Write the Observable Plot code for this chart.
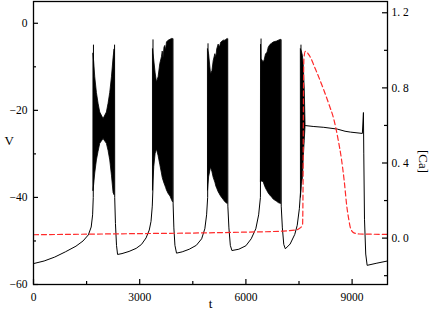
<!DOCTYPE html>
<html><head><meta charset="utf-8">
<script src="https://cdn.jsdelivr.net/npm/d3@7"></script>
<script src="https://cdn.jsdelivr.net/npm/@observablehq/plot@0.6"></script>
<style>
html,body{margin:0;padding:0;background:#fff;}
#chart{width:430px;height:310px;}
</style></head><body><div id="chart"></div>
<script>
// ticks
const xTicks = [0, 3000, 6000, 9000];
const xMinor = [1500, 4500, 7500];
const vTicks = [-60, -40, -20, 0];
const vMinor = [-50, -30, -10];
const caTicks = [0, 0.4, 0.8, 1.2];
const caMinor = [-0.2, 0.2, 0.6, 1.0];

// slow voltage trace (null = gap where a burst is drawn)
const traceT = [0,300,600,900,1200,1400,1550,1630,1670,1688,1694,null,
  2290,2294,2315,2345,2375,2500,2700,2900,3050,3180,3270,3320,3355,3372,3376,null,
  3940,3944,3965,3995,4040,4200,4400,4600,4750,4840,4890,4920,4930,null,
  5486,5490,5520,5560,5605,5800,6000,6150,6280,6360,6410,6428,null,
  6994,6998,7030,7070,7115,7250,7380,7450,7510,7550,7556,null,
  7685,7900,8200,8580,8800,8955,9290,9320,9330,9350,9385,9425,9700,10000];
const traceV = [-55.2,-54.6,-53.7,-52.5,-51.2,-50.0,-48.6,-46.8,-44,-40,-5,null,
  -5,-40,-46,-51,-53.1,-52.9,-52.4,-51.7,-50.8,-49.3,-47.5,-45.5,-42,-38.5,-3.8,null,
  -3.6,-41.5,-47,-51,-52.8,-52.5,-51.9,-51.0,-49.5,-47.2,-44,-40,-4.7,null,
  -3.6,-42,-47,-51,-52.2,-51.9,-51.1,-49.5,-47.2,-44,-40,-3.6,null,
  -3.8,-42,-47,-50.8,-51.8,-50.7,-48.5,-46.4,-42.6,-38,-5,null,
  -23.5,-23.7,-23.9,-24.3,-24.8,-25.0,-25.3,-20.5,-30,-45,-53,-55.6,-55.1,-54.6];

// burst envelopes (spike maxima / minima)
const burstT = [1694,1715,1744,1791,1838,1885,1979,2073,2120,2168,2216,2262,2290,null,
  3376,3412,3450,3487,3534,3581,3628,3650,3675,3700,3723,3745,3770,3817,3870,3911,3940,null,
  4930,4960,5015,5055,5090,5137,5165,5190,5230,5265,5300,5373,5420,5486,null,
  6428,6440,6503,6530,6570,6610,6645,6692,6740,6786,6880,6928,6994,null,
  7556,7580,7610,7634,7662,7685];
const burstHi = [-7,-9,-12.4,-16,-18.5,-20.5,-22,-20.5,-18.5,-16,-12.4,-8,-6,null,
  -6,-8.6,-11.5,-13.6,-12.4,-9.4,-7.8,-6.5,-8.0,-5.6,-5.2,-6.3,-4.4,-4.0,-3.8,-3.6,-3.6,null,
  -6,-7.1,-11.7,-11.0,-8.7,-7.1,-7.9,-6.0,-4.9,-5.6,-4.5,-4.0,-4.0,-3.6,null,
  -5,-8.2,-9.0,-8.5,-7.1,-6.8,-5.6,-5.0,-4.7,-4.4,-4.2,-4.0,-3.8,null,
  -6,-6.5,-7.5,-9.7,-15,-23.3];
const burstLo = [-38.5,-37,-34.5,-31.5,-29.5,-27.7,-26.6,-27.7,-29.3,-31.5,-35,-39,-39.5,null,
  -38.4,-33,-30,-29,-30.5,-32.5,-34.5,-35.5,-36.2,-36.8,-37.3,-37.8,-38.4,-39.2,-39.8,-40.6,-41.1,null,
  -38.4,-35.4,-33.1,-34.2,-35.5,-36.6,-37.5,-38.0,-38.8,-39.3,-39.8,-40.6,-41.1,-41.5,null,
  -36.5,-36.3,-36.5,-37.2,-38.0,-38.6,-39.1,-39.6,-40.0,-40.5,-41.0,-41.3,-41.5,null,
  -40,-37,-35.6,-31,-27,-23.7];

// calcium
const caT = [0,1500,3000,4500,6000,7000,7400,7500,7600,7615,7625,7640,7681,7800,7964,8198,8350,8481,8600,8700,8780,8850,8906,8960,9050,9200,10000];
const caV = [0.018,0.021,0.024,0.027,0.032,0.037,0.043,0.05,0.07,0.3,0.75,0.96,0.995,0.97,0.9,0.79,0.71,0.635,0.53,0.42,0.3,0.17,0.1,0.05,0.028,0.022,0.02];

const vDomain = [-60, 5];
const caDomain = [-0.247, 1.26];
const ca2v = d3.scaleLinear().domain(caDomain).range(vDomain);

const trace = traceT.map((t, i) => ({t, v: traceV[i]}));
const bursts = burstT.map((t, i) => ({t, hi: burstHi[i], lo: burstLo[i]}));
const ca = caT.map((t, i) => ({t, c: caV[i]}));

const W = 430, H = 310, ML = 33, MR = 43, MT = 1, MB = 26;
const frameW = W - ML - MR, frameH = H - MT - MB;

const serif = "'Liberation Serif','Times New Roman',serif";
const vFmt = d => d < 0 ? "\u2212" + Math.abs(d) : String(d);
const caFmt = v => {
  const c = Math.round(ca2v.invert(v) * 10) / 10;
  return (Math.abs(c) < 1e-9 ? 0 : c).toFixed(1).replace(".", ". ");
};
const tick = {stroke: "black", strokeWidth: 1.2};

const chart = Plot.plot({
  width: W, height: H,
  marginLeft: ML, marginRight: MR, marginTop: MT, marginBottom: MB,
  style: {fontFamily: serif, fontSize: "11.5px", color: "#000", background: "#fff", overflow: "visible"},
  x: {domain: [0, 10000]},
  y: {domain: vDomain},
  marks: [
    Plot.areaY(bursts, {x: "t", y1: "lo", y2: "hi", fill: "black", stroke: "black", strokeWidth: 0.8}),
    Plot.line(trace, {x: "t", y: "v", stroke: "black", strokeWidth: 1}),
    Plot.line(ca, {x: "t", y: d => ca2v(d.c), curve: "monotone-x", stroke: "#ff2a2a", strokeWidth: 1.2, strokeDasharray: "5,3"}),
    // inward ticks
    Plot.ruleX(xTicks, {x: d => d, insetTop: frameH - 5, ...tick}),
    Plot.ruleX(xMinor, {x: d => d, insetTop: frameH - 3, ...tick}),
    Plot.ruleY(vTicks, {y: d => d, insetRight: frameW - 5, ...tick}),
    Plot.ruleY(vMinor, {y: d => d, insetRight: frameW - 3, ...tick}),
    Plot.ruleY(caTicks, {y: d => ca2v(d), insetLeft: frameW - 5, ...tick}),
    Plot.ruleY(caMinor, {y: d => ca2v(d), insetLeft: frameW - 3, ...tick}),
    Plot.frame({stroke: "black", strokeWidth: 1.3}),
    // tick labels
    Plot.axisX(xTicks, {tickSize: 0, tickPadding: 8, label: null, tickFormat: d => String(d)}),
    Plot.axisY(vTicks, {anchor: "left", tickSize: 0, tickPadding: 6, label: null, tickFormat: vFmt}),
    Plot.axisY(caTicks.map(ca2v), {anchor: "right", tickSize: 0, tickPadding: 4, label: null, tickFormat: caFmt}),
    // axis titles
    Plot.text(["V"], {frameAnchor: "left", dx: -29, dy: -2, fontSize: 13, text: d => d}),
    Plot.text(["t"], {frameAnchor: "bottom", dy: 23, fontSize: 13, text: d => d}),
    Plot.text(["[Ca]"], {frameAnchor: "right", dx: 36, dy: 30, rotate: 90, fontSize: 13, text: d => d})
  ]
});
document.getElementById("chart").append(chart);
</script>
</body></html>
